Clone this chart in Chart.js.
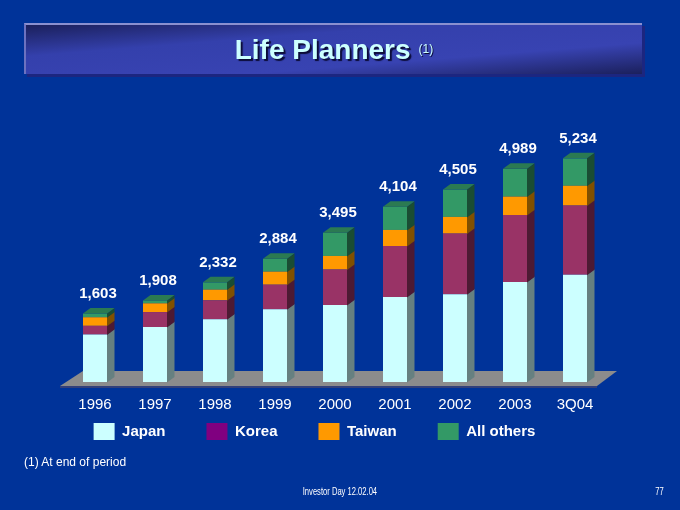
<!DOCTYPE html>
<html lang="en">
<head>
<meta charset="utf-8">
<title>Life Planners</title>
<script src="https://cdn.jsdelivr.net/npm/chart.js@4.4.1/dist/chart.umd.min.js"></script>
<style>
    html, body { margin: 0; padding: 0; background: #003399; }
    #lienzo { position: relative; width: 680px; height: 510px; overflow: hidden;
              font-family: "Liberation Sans", Arial, sans-serif; }
    #grafico-planners { position: absolute; left: 0; top: 0; }
    .banda { position: absolute; left: 24px; top: 23px; width: 618px; height: 51px;
             box-sizing: border-box; border-top: 2px solid #8a90d0; border-left: 2px solid #6c72c0;
             background: linear-gradient(to bottom right, #1b205c 0%, #3440ac 32%, #3843b2 68%, #1b205c 100%);
             box-shadow: 3px 3px 0 #1c2680;
             display: flex; align-items: center; justify-content: center; }
    .titulo { color: #ccffff; font-weight: bold; font-size: 28px; text-shadow: 2px 2px 1px #0c0c38; }
    .nota-titulo { color: #ccffff; font-size: 12px; margin-left: 8px; position: relative; top: -1px;
                   text-shadow: 1px 1px 0 #0c0c38; }
    .nota { position: absolute; left: 24px; top: 455px; color: #ffffff; font-size: 12px; }
    .pie { position: absolute; left: 240px; width: 200px; top: 486px; text-align: center; color: #ffffff;
           font-size: 10px; }
    .pie span, .pagina span { display: inline-block; transform: scaleX(0.76); }
    .pagina { position: absolute; left: 650px; width: 20px; top: 486px; text-align: center; color: #ffffff;
              font-size: 10px; }
</style>
</head>
<body>
<div id="lienzo">
    <canvas id="grafico-planners"></canvas>
    <div class="banda"><span class="titulo">Life Planners</span><span class="nota-titulo">(1)</span></div>
    <div class="nota">(1) At end of period</div>
    <div class="pie"><span>Investor Day 12.02.04</span></div>
    <div class="pagina"><span>77</span></div>
</div>
<script>
// Periodos (etiquetas del eje X)
var periodos = ['1996', '1997', '1998', '1999', '2000', '2001', '2002', '2003', '3Q04'];

// Life Planners por region
var japan     = [1110, 1285, 1467, 1700, 1801, 1991, 2055, 2342, 2508];
var korea     = [205, 352, 445, 578, 832, 1192, 1419, 1567, 1622];
var taiwan    = [200, 204, 250, 305, 317, 376, 390, 430, 463];
var allOthers = [88, 67, 170, 301, 545, 545, 641, 650, 641];

var nombresSeries = ['Japan', 'Korea', 'Taiwan', 'All others'];

document.addEventListener('DOMContentLoaded', function() {
    var ctx = document.getElementById('grafico-planners').getContext('2d');
    var fuente = '"Liberation Sans", Arial, sans-serif';

    // Colores de cara frontal, lateral y leyenda
    var coloresFrente = ['#ccffff', '#993366', '#ff9900', '#339966'];
    var coloresLado = ['#668080', '#4d1a33', '#805000', '#1a4d33'];
    var coloresLeyenda = ['#ccffff', '#800080', '#ff9900', '#339966'];
    var colorTecho = '#2b7a52';
    var prof = { dx: 7.5, dy: 5.5 };

    // Plugin para el piso, caras 3D y totales
    var columnas3d = {
        id: 'columnas3d',
        beforeDatasetsDraw: function(chart) {
            var c = chart.ctx;
            var area = chart.chartArea;
            var base = chart.scales.y.getPixelForValue(0);
            c.save();
            c.fillStyle = '#8c8c8c';
            c.beginPath();
            c.moveTo(area.left - 5, base + 4);
            c.lineTo(area.right - 8, base + 4);
            c.lineTo(area.right + 12, base - 11);
            c.lineTo(area.left + 18, base - 11);
            c.closePath();
            c.fill();
            c.fillStyle = '#33407a';
            c.fillRect(area.left - 5, base + 4, area.right - area.left - 3, 2);
            c.restore();
        },
        afterDatasetsDraw: function(chart) {
            var c = chart.ctx;
            var n = chart.data.datasets.length;
            c.save();
            // caras laterales
            for (var i = 0; i < n; i++) {
                var meta = chart.getDatasetMeta(i);
                c.fillStyle = coloresLado[i];
                meta.data.forEach(function(bar) {
                    var p = bar.getProps(['x', 'y', 'base', 'width'], true);
                    var der = p.x + p.width / 2;
                    c.beginPath();
                    c.moveTo(der, p.y);
                    c.lineTo(der + prof.dx, p.y - prof.dy);
                    c.lineTo(der + prof.dx, p.base - prof.dy + 0.5);
                    c.lineTo(der, p.base + 0.5);
                    c.closePath();
                    c.fill();
                });
            }
            // techo y totales sobre la serie superior
            var ultimo = chart.getDatasetMeta(n - 1);
            c.font = 'bold 15px ' + fuente;
            c.textAlign = 'center';
            c.textBaseline = 'middle';
            ultimo.data.forEach(function(bar, j) {
                var p = bar.getProps(['x', 'y', 'width'], true);
                var izq = p.x - p.width / 2;
                var der = p.x + p.width / 2;
                c.fillStyle = colorTecho;
                c.beginPath();
                c.moveTo(izq, p.y);
                c.lineTo(izq + prof.dx, p.y - prof.dy);
                c.lineTo(der + prof.dx, p.y - prof.dy);
                c.lineTo(der, p.y);
                c.closePath();
                c.fill();

                var total = 0;
                chart.data.datasets.forEach(function(ds) { total += ds.data[j]; });
                c.fillStyle = '#ffffff';
                c.fillText(total.toLocaleString('en-US'), p.x + 3, p.y - 20);
            });
            c.restore();
        }
    };

    var datos = {
        labels: periodos,
        datasets: [japan, korea, taiwan, allOthers].map(function(serie, i) {
            return {
                label: nombresSeries[i],
                data: serie,
                backgroundColor: coloresFrente[i],
                borderWidth: 0,
                categoryPercentage: 1,
                barPercentage: 0.4
            };
        })
    };

    var opciones = {
        responsive: false,
        animation: false,
        layout: { padding: { top: 100, bottom: 60, left: 24, right: 75 } },
        scales: {
            x: {
                stacked: true,
                grid: { display: false, drawTicks: false },
                border: { display: false },
                ticks: { color: '#ffffff', font: { family: fuente, size: 15 }, padding: -32,
                         mirror: true, maxRotation: 0, autoSkip: false },
                afterFit: function(eje) { eje.height = 0; }
            },
            y: {
                stacked: true,
                min: 0,
                max: 6600,
                grid: { display: false, drawTicks: false },
                border: { display: false },
                ticks: { display: false },
                afterFit: function(eje) { eje.width = 41; }
            }
        },
        plugins: {
            legend: {
                position: 'bottom',
                labels: {
                    color: '#ffffff',
                    font: { family: fuente, size: 15, weight: 'bold' },
                    boxWidth: 21,
                    boxHeight: 17,
                    padding: 41,
                    generateLabels: function(chart) {
                        var items = Chart.defaults.plugins.legend.labels.generateLabels(chart);
                        items.forEach(function(it, i) {
                            it.fillStyle = coloresLeyenda[i];
                            it.strokeStyle = coloresLeyenda[i];
                            it.lineWidth = 0;
                        });
                        return items;
                    }
                }
            },
            tooltip: { enabled: false }
        }
    };

    var canvas = document.getElementById('grafico-planners');
    canvas.width = 680;
    canvas.height = 510;

    var graficoPlanners = new Chart(ctx, {
        type: 'bar',
        data: datos,
        options: opciones,
        plugins: [columnas3d]
    });
});
</script>
</body>
</html>
